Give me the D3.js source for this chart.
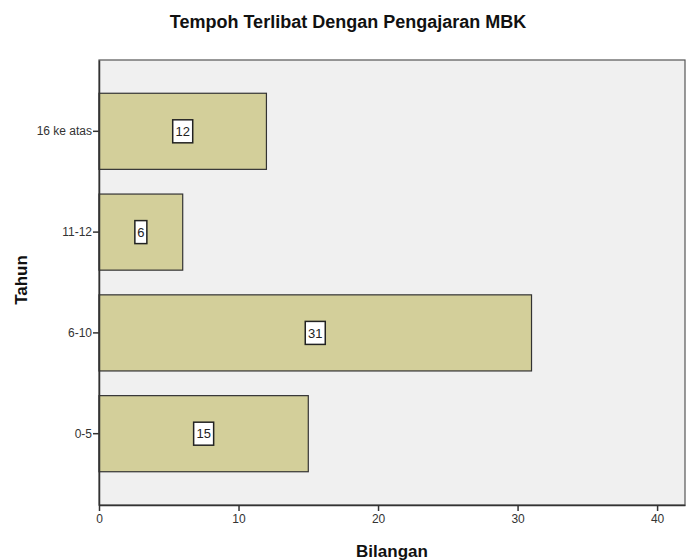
<!DOCTYPE html>
<html>
<head>
<meta charset="utf-8">
<script src="https://cdn.jsdelivr.net/npm/d3@7"></script>
<style>
  body { margin: 0; background: #fff; }
  svg { font-family: Arial, "Liberation Sans", sans-serif; }
</style>
</head>
<body>
<div id="chart"></div>
<script>
// Data
const categories = ["16 ke atas", "11-12", "6-10", "0-5"];
const counts = [12, 6, 31, 15];
const xTicks = [0, 10, 20, 30, 40];

const width = 690, height = 560;
const margin = { top: 60, right: 5, bottom: 55, left: 99 };

const svg = d3.select("#chart")
    .append("svg")
    .attr("width", width)
    .attr("height", height);

const x = d3.scaleLinear()
    .domain([0, 42])
    .range([margin.left, width - margin.right]);

const y = d3.scaleBand()
    .domain(categories)
    .range([margin.top, height - margin.bottom])
    .paddingInner(0.245)
    .paddingOuter(0.33);

// plot background
svg.append("rect")
    .attr("x", margin.left)
    .attr("y", margin.top)
    .attr("width", width - margin.right - margin.left)
    .attr("height", height - margin.bottom - margin.top)
    .attr("fill", "#f0f0f0")
    .attr("stroke", "#555")
    .attr("stroke-width", 1.2);

// bars
svg.selectAll("rect.bar")
    .data(categories)
    .enter()
    .append("rect")
    .attr("class", "bar")
    .attr("x", x(0))
    .attr("y", (d) => y(d))
    .attr("width", (d, i) => x(counts[i]) - x(0))
    .attr("height", y.bandwidth())
    .attr("fill", "#d3cf9a")
    .attr("stroke", "#333")
    .attr("stroke-width", 1.2);

// value labels
const labels = svg.selectAll("g.lbl")
    .data(categories)
    .enter()
    .append("g")
    .attr("class", "lbl")
    .attr("transform", (d, i) =>
        `translate(${x(counts[i] / 2)},${y(d) + y.bandwidth() / 2})`);

labels.append("rect")
    .attr("x", (d, i) => String(counts[i]).length > 1 ? -10 : -6)
    .attr("y", -11.5)
    .attr("width", (d, i) => String(counts[i]).length > 1 ? 20 : 12)
    .attr("height", 23)
    .attr("fill", "#fff")
    .attr("stroke", "#222")
    .attr("stroke-width", 1.5);

labels.append("text")
    .attr("text-anchor", "middle")
    .attr("dy", "0.36em")
    .attr("font-size", 13)
    .attr("fill", "#222")
    .text((d, i) => counts[i]);

// x axis
const xAxis = svg.append("g")
    .attr("transform", `translate(0,${height - margin.bottom})`)
    .call(d3.axisBottom(x).tickValues(xTicks).tickSizeInner(6).tickSizeOuter(0).tickPadding(3));
xAxis.select(".domain").attr("stroke", "#333").attr("stroke-width", 1.5);
xAxis.selectAll(".tick line").attr("stroke", "#333").attr("stroke-width", 1.5);
xAxis.selectAll(".tick text").attr("font-size", 12).attr("fill", "#333")
    .attr("font-family", "Arial, 'Liberation Sans', sans-serif");

// y axis
const yAxis = svg.append("g")
    .attr("transform", `translate(${margin.left},0)`)
    .call(d3.axisLeft(y).tickSizeInner(6).tickSizeOuter(0).tickPadding(1));
yAxis.select(".domain").attr("stroke", "#333").attr("stroke-width", 1.5);
yAxis.selectAll(".tick line").attr("stroke", "#333").attr("stroke-width", 1.5);
yAxis.selectAll(".tick text").attr("font-size", 12).attr("fill", "#333")
    .attr("font-family", "Arial, 'Liberation Sans', sans-serif");

// title
svg.append("text")
    .attr("x", 348)
    .attr("y", 28)
    .attr("text-anchor", "middle")
    .attr("font-size", 18)
    .attr("font-weight", "bold")
    .attr("fill", "#111")
    .text("Tempoh Terlibat Dengan Pengajaran MBK");

// axis titles
svg.append("text")
    .attr("x", 392)
    .attr("y", 557)
    .attr("text-anchor", "middle")
    .attr("font-size", 17)
    .attr("font-weight", "bold")
    .attr("fill", "#111")
    .text("Bilangan");

svg.append("text")
    .attr("transform", `translate(27,280) rotate(-90)`)
    .attr("text-anchor", "middle")
    .attr("font-size", 17)
    .attr("font-weight", "bold")
    .attr("fill", "#111")
    .text("Tahun");
</script>
</body>
</html>
